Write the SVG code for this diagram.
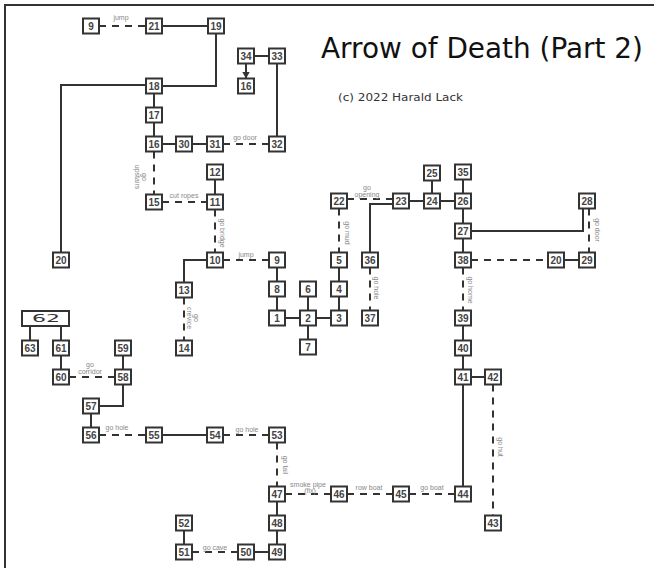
<svg xmlns="http://www.w3.org/2000/svg" width="663" height="568" viewBox="0 0 663 568">
<defs>
<style>
.box{fill:#fff;stroke:#333;stroke-width:2}
.num{font-family:"Liberation Sans",Arial,sans-serif;font-size:10px;font-weight:bold;fill:#444;text-anchor:middle}
.lbl{font-family:"Liberation Sans",Arial,sans-serif;font-size:7px;fill:#888;text-anchor:middle}
.solid{fill:none;stroke:#333;stroke-width:2}
.dash{fill:none;stroke:#333;stroke-width:2;stroke-dasharray:7 6}
</style>
<marker id="arr" markerWidth="8" markerHeight="8" refX="7" refY="4" orient="auto" markerUnits="userSpaceOnUse">
<path d="M0,0 L7,4 L0,8 Z" fill="#333"/>
</marker>
</defs>
<rect width="663" height="568" fill="#fff"/>
<path d="M5,568 V5 H654" fill="none" stroke="#333" stroke-width="2"/>
<text x="321" y="58" font-family="'DejaVu Sans',sans-serif" font-size="28" fill="#111" textLength="322" lengthAdjust="spacingAndGlyphs">Arrow of Death (Part 2)</text>
<text x="338" y="101" font-family="'DejaVu Sans',sans-serif" font-size="11" fill="#333" textLength="125" lengthAdjust="spacingAndGlyphs">(c) 2022 Harald Lack</text>

<g id="connectors">
<path class="solid" d="M162,26 H208"/>
<path class="solid" d="M216,33.5 V86 H162"/>
<path class="solid" d="M146,85 H61 V252.5"/>
<path class="solid" d="M154,93.5 V107.5"/>
<path class="solid" d="M154,122.5 V136.5"/>
<path class="solid" d="M162,144 H176"/>
<path class="solid" d="M192,144 H207"/>
<path class="solid" d="M254,56 H269"/>
<path class="solid" d="M277,63.5 V136.5"/>
<path class="solid" d="M246,63.5 V78.5" marker-end="url(#arr)"/>
<path class="solid" d="M215,179.5 V194.5"/>
<path class="solid" d="M207,260 H184 V282.5"/>
<path class="solid" d="M277,267.5 V281.5"/>
<path class="solid" d="M277,296.5 V310.5"/>
<path class="solid" d="M285,318 H300"/>
<path class="solid" d="M316,318 H331"/>
<path class="solid" d="M308,296.5 V310.5"/>
<path class="solid" d="M308,325.5 V339.5"/>
<path class="solid" d="M339,296.5 V310.5"/>
<path class="solid" d="M339,267.5 V281.5"/>
<path class="solid" d="M370,252.5 V204 H393"/>
<path class="solid" d="M409,201 H424"/>
<path class="solid" d="M440,201 H455"/>
<path class="solid" d="M432,180.5 V193.5"/>
<path class="solid" d="M463,179.5 V193.5"/>
<path class="solid" d="M463,208.5 V223.5"/>
<path class="solid" d="M463,238.5 V252.5"/>
<path class="solid" d="M471,231 H583 V208.5"/>
<path class="solid" d="M564,260 H579"/>
<path class="solid" d="M463,325.5 V340.5"/>
<path class="solid" d="M463,355.5 V369.5"/>
<path class="solid" d="M471,377 H485"/>
<path class="solid" d="M463,384.5 V486.5"/>
<path class="solid" d="M277,501.5 V515.5"/>
<path class="solid" d="M277,530.5 V544.5"/>
<path class="solid" d="M254,552 H269"/>
<path class="solid" d="M184,530.5 V544.5"/>
<path class="solid" d="M162,435 H207"/>
<path class="solid" d="M30,326 V340.5"/>
<path class="solid" d="M61,326 V340.5"/>
<path class="solid" d="M61,355.5 V369.5"/>
<path class="solid" d="M123,355.5 V369.5"/>
<path class="solid" d="M123,384.5 V406 H99"/>
<path class="solid" d="M91,413.5 V427.5"/>

<path class="dash" d="M99,26 H146"/>
<path class="dash" d="M223,144 H269"/>
<path class="dash" d="M154,151.5 V194.5"/>
<path class="dash" d="M162,202 H207"/>
<path class="dash" d="M215,209.5 V252.5"/>
<path class="dash" d="M223,260 H269"/>
<path class="dash" d="M184,297.5 V340.5"/>
<path class="dash" d="M339,208.5 V252.5"/>
<path class="dash" d="M347,199 H393"/>
<path class="dash" d="M370,267.5 V310.5"/>
<path class="dash" d="M463,267.5 V310.5"/>
<path class="dash" d="M589,208.5 V252.5"/>
<path class="dash" d="M471,260 H548"/>
<path class="dash" d="M493,384.5 V515.5"/>
<path class="dash" d="M69,377 H115"/>
<path class="dash" d="M99,435 H146"/>
<path class="dash" d="M223,435 H269"/>
<path class="dash" d="M277,442.5 V486.5"/>
<path class="dash" d="M285,494 H331"/>
<path class="dash" d="M347,494 H393"/>
<path class="dash" d="M409,494 H455"/>
<path class="dash" d="M192,552 H238"/>

<text class="lbl" x="121" y="20">jump</text>
<text class="lbl" x="245" y="140">go door</text>
<text class="lbl" x="184" y="198">cut ropes</text>
<text class="lbl" x="246" y="257">jump</text>
<text class="lbl" x="367" y="190">go</text>
<text class="lbl" x="367" y="197">opening</text>
<text class="lbl" x="90" y="367">go</text>
<text class="lbl" x="90" y="374">corridor</text>
<text class="lbl" x="117" y="430">go hole</text>
<text class="lbl" x="247" y="432">go hole</text>
<text class="lbl" x="308" y="487">smoke pipe</text>
<text class="lbl" x="310" y="493">(fix)</text>
<text class="lbl" x="369" y="490">row boat</text>
<text class="lbl" x="432" y="490">go boat</text>
<text class="lbl" x="215" y="550">go cave</text>
<g transform="rotate(90 142 177)"><text class="lbl" x="142" y="177">go</text><text class="lbl" x="142" y="184">upstairs</text></g>
<text class="lbl" transform="rotate(90 220 233)" x="220" y="233">go bridge</text>
<g transform="rotate(90 194 318)"><text class="lbl" x="194" y="318">go</text><text class="lbl" x="194" y="325">crevice</text></g>
<text class="lbl" transform="rotate(90 345 233)" x="345" y="233">go mud</text>
<text class="lbl" transform="rotate(90 374 288)" x="374" y="288">go hole</text>
<text class="lbl" transform="rotate(90 468 290)" x="468" y="290">go home</text>
<text class="lbl" transform="rotate(90 595 230)" x="595" y="230">go door</text>
<text class="lbl" transform="rotate(90 498 447)" x="498" y="447">go hut</text>
<text class="lbl" transform="rotate(90 283 465)" x="283" y="465">go tail</text>
</g>

<g id="n9a"><rect class="box" x="83" y="18.5" width="16" height="15"/><text class="num" x="91" y="29.5">9</text></g>
<g id="n21"><rect class="box" x="146" y="18.5" width="16" height="15"/><text class="num" x="154" y="29.5">21</text></g>
<g id="n19"><rect class="box" x="208" y="18.5" width="16" height="15"/><text class="num" x="216" y="29.5">19</text></g>
<g id="n18"><rect class="box" x="146" y="78.5" width="16" height="15"/><text class="num" x="154" y="89.5">18</text></g>
<g id="n17"><rect class="box" x="146" y="107.5" width="16" height="15"/><text class="num" x="154" y="118.5">17</text></g>
<g id="n16a"><rect class="box" x="146" y="136.5" width="16" height="15"/><text class="num" x="154" y="147.5">16</text></g>
<g id="n30"><rect class="box" x="176" y="136.5" width="16" height="15"/><text class="num" x="184" y="147.5">30</text></g>
<g id="n31"><rect class="box" x="207" y="136.5" width="16" height="15"/><text class="num" x="215" y="147.5">31</text></g>
<g id="n32"><rect class="box" x="269" y="136.5" width="16" height="15"/><text class="num" x="277" y="147.5">32</text></g>
<g id="n34"><rect class="box" x="238" y="48.5" width="16" height="15"/><text class="num" x="246" y="59.5">34</text></g>
<g id="n33"><rect class="box" x="269" y="48.5" width="16" height="15"/><text class="num" x="277" y="59.5">33</text></g>
<g id="n16b"><rect class="box" x="238" y="78.5" width="16" height="15"/><text class="num" x="246" y="89.5">16</text></g>
<g id="n12"><rect class="box" x="207" y="164.5" width="16" height="15"/><text class="num" x="215" y="175.5">12</text></g>
<g id="n15"><rect class="box" x="146" y="194.5" width="16" height="15"/><text class="num" x="154" y="205.5">15</text></g>
<g id="n11"><rect class="box" x="207" y="194.5" width="16" height="15"/><text class="num" x="215" y="205.5">11</text></g>
<g id="n20a"><rect class="box" x="53" y="252.5" width="16" height="15"/><text class="num" x="61" y="263.5">20</text></g>
<g id="n10"><rect class="box" x="207" y="252.5" width="16" height="15"/><text class="num" x="215" y="263.5">10</text></g>
<g id="n9b"><rect class="box" x="269" y="252.5" width="16" height="15"/><text class="num" x="277" y="263.5">9</text></g>
<g id="n13"><rect class="box" x="176" y="282.5" width="16" height="15"/><text class="num" x="184" y="293.5">13</text></g>
<g id="n14"><rect class="box" x="176" y="340.5" width="16" height="15"/><text class="num" x="184" y="351.5">14</text></g>
<g id="n8"><rect class="box" x="269" y="281.5" width="16" height="15"/><text class="num" x="277" y="292.5">8</text></g>
<g id="n6"><rect class="box" x="300" y="281.5" width="16" height="15"/><text class="num" x="308" y="292.5">6</text></g>
<g id="n4"><rect class="box" x="331" y="281.5" width="16" height="15"/><text class="num" x="339" y="292.5">4</text></g>
<g id="n1"><rect class="box" x="269" y="310.5" width="16" height="15"/><text class="num" x="277" y="321.5">1</text></g>
<g id="n2"><rect class="box" x="300" y="310.5" width="16" height="15"/><text class="num" x="308" y="321.5">2</text></g>
<g id="n3"><rect class="box" x="331" y="310.5" width="16" height="15"/><text class="num" x="339" y="321.5">3</text></g>
<g id="n7"><rect class="box" x="300" y="339.5" width="16" height="15"/><text class="num" x="308" y="350.5">7</text></g>
<g id="n5"><rect class="box" x="331" y="252.5" width="16" height="15"/><text class="num" x="339" y="263.5">5</text></g>
<g id="n22"><rect class="box" x="331" y="193.5" width="16" height="15"/><text class="num" x="339" y="204.5">22</text></g>
<g id="n23"><rect class="box" x="393" y="193.5" width="16" height="15"/><text class="num" x="401" y="204.5">23</text></g>
<g id="n24"><rect class="box" x="424" y="193.5" width="16" height="15"/><text class="num" x="432" y="204.5">24</text></g>
<g id="n25"><rect class="box" x="424" y="165.5" width="16" height="15"/><text class="num" x="432" y="176.5">25</text></g>
<g id="n36"><rect class="box" x="362" y="252.5" width="16" height="15"/><text class="num" x="370" y="263.5">36</text></g>
<g id="n37"><rect class="box" x="362" y="310.5" width="16" height="15"/><text class="num" x="370" y="321.5">37</text></g>
<g id="n35"><rect class="box" x="455" y="164.5" width="16" height="15"/><text class="num" x="463" y="175.5">35</text></g>
<g id="n26"><rect class="box" x="455" y="193.5" width="16" height="15"/><text class="num" x="463" y="204.5">26</text></g>
<g id="n27"><rect class="box" x="455" y="223.5" width="16" height="15"/><text class="num" x="463" y="234.5">27</text></g>
<g id="n38"><rect class="box" x="455" y="252.5" width="16" height="15"/><text class="num" x="463" y="263.5">38</text></g>
<g id="n28"><rect class="box" x="579" y="193.5" width="16" height="15"/><text class="num" x="587" y="204.5">28</text></g>
<g id="n20b"><rect class="box" x="548" y="252.5" width="16" height="15"/><text class="num" x="556" y="263.5">20</text></g>
<g id="n29"><rect class="box" x="579" y="252.5" width="16" height="15"/><text class="num" x="587" y="263.5">29</text></g>
<g id="n39"><rect class="box" x="455" y="310.5" width="16" height="15"/><text class="num" x="463" y="321.5">39</text></g>
<g id="n40"><rect class="box" x="455" y="340.5" width="16" height="15"/><text class="num" x="463" y="351.5">40</text></g>
<g id="n41"><rect class="box" x="455" y="369.5" width="16" height="15"/><text class="num" x="463" y="380.5">41</text></g>
<g id="n42"><rect class="box" x="485" y="369.5" width="16" height="15"/><text class="num" x="493" y="380.5">42</text></g>
<g id="n44"><rect class="box" x="455" y="486.5" width="16" height="15"/><text class="num" x="463" y="497.5">44</text></g>
<g id="n43"><rect class="box" x="485" y="515.5" width="16" height="15"/><text class="num" x="493" y="526.5">43</text></g>
<g id="n45"><rect class="box" x="393" y="486.5" width="16" height="15"/><text class="num" x="401" y="497.5">45</text></g>
<g id="n46"><rect class="box" x="331" y="486.5" width="16" height="15"/><text class="num" x="339" y="497.5">46</text></g>
<g id="n47"><rect class="box" x="269" y="486.5" width="16" height="15"/><text class="num" x="277" y="497.5">47</text></g>
<g id="n48"><rect class="box" x="269" y="515.5" width="16" height="15"/><text class="num" x="277" y="526.5">48</text></g>
<g id="n49"><rect class="box" x="269" y="544.5" width="16" height="15"/><text class="num" x="277" y="555.5">49</text></g>
<g id="n50"><rect class="box" x="238" y="544.5" width="16" height="15"/><text class="num" x="246" y="555.5">50</text></g>
<g id="n51"><rect class="box" x="176" y="544.5" width="16" height="15"/><text class="num" x="184" y="555.5">51</text></g>
<g id="n52"><rect class="box" x="176" y="515.5" width="16" height="15"/><text class="num" x="184" y="526.5">52</text></g>
<g id="n53"><rect class="box" x="269" y="427.5" width="16" height="15"/><text class="num" x="277" y="438.5">53</text></g>
<g id="n54"><rect class="box" x="207" y="427.5" width="16" height="15"/><text class="num" x="215" y="438.5">54</text></g>
<g id="n55"><rect class="box" x="146" y="427.5" width="16" height="15"/><text class="num" x="154" y="438.5">55</text></g>
<g id="n56"><rect class="box" x="83" y="427.5" width="16" height="15"/><text class="num" x="91" y="438.5">56</text></g>
<g id="n57"><rect class="box" x="83" y="398.5" width="16" height="15"/><text class="num" x="91" y="409.5">57</text></g>
<g id="n58"><rect class="box" x="115" y="369.5" width="16" height="15"/><text class="num" x="123" y="380.5">58</text></g>
<g id="n59"><rect class="box" x="115" y="340.5" width="16" height="15"/><text class="num" x="123" y="351.5">59</text></g>
<g id="n60"><rect class="box" x="53" y="369.5" width="16" height="15"/><text class="num" x="61" y="380.5">60</text></g>
<g id="n61"><rect class="box" x="53" y="340.5" width="16" height="15"/><text class="num" x="61" y="351.5">61</text></g>
<g id="n63"><rect class="box" x="22" y="340.5" width="16" height="15"/><text class="num" x="30" y="351.5">63</text></g>
<g id="n62"><rect class="box" x="22" y="311" width="47" height="15"/><text x="32" y="322" font-family="'DejaVu Sans',sans-serif" font-size="10" fill="#333" textLength="28" lengthAdjust="spacingAndGlyphs">62</text></g>
</svg>
